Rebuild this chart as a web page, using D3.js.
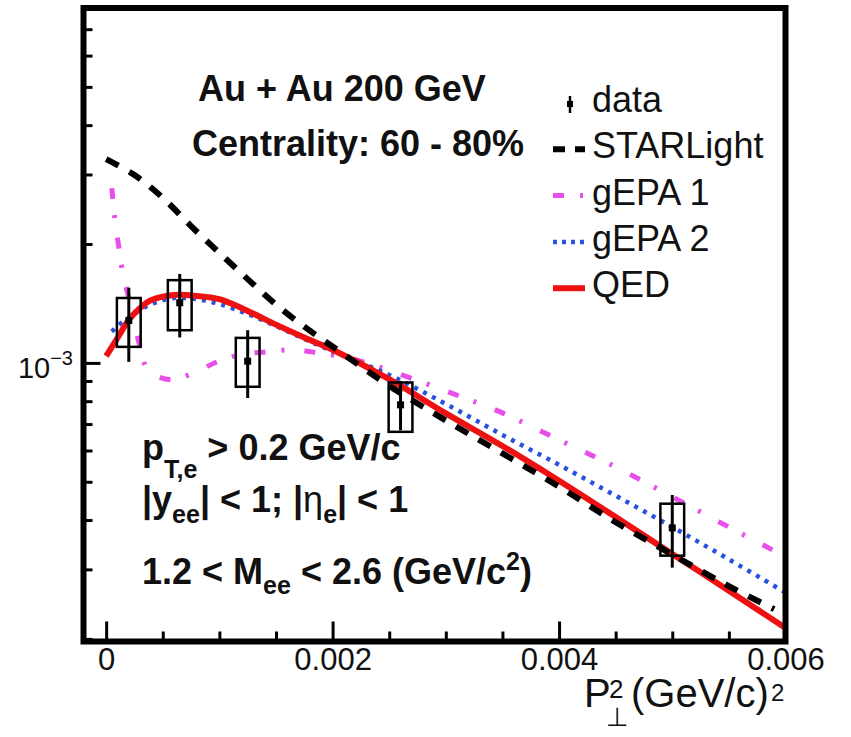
<!DOCTYPE html>
<html>
<head>
<meta charset="utf-8">
<script src="https://cdn.jsdelivr.net/npm/d3@7"></script>
<style>
  html, body { margin: 0; padding: 0; background: #ffffff; }
  svg { display: block; font-family: "Liberation Sans", Arial, Helvetica, sans-serif; }
</style>
</head>
<body>
<script>
// ---- measured points: dN/dP_perp^2 in Au+Au 200 GeV, 60-80% centrality ----
const dataX  = [0.0002, 0.00065, 0.00125, 0.0026, 0.005];
const dataY  = [1.28e-3, 1.42e-3, 1.01e-3, 7.83e-4, 3.82e-4];
const statLo = [1.006e-3, 1.16e-3, 8.15e-4, 6.75e-4, 3.03e-4];
const statHi = [1.55e-3, 1.68e-3, 1.21e-3, 9.0e-4, 4.63e-4];
const sysLo  = [1.098e-3, 1.21e-3, 8.7e-4, 6.69e-4, 3.25e-4];
const sysHi  = [1.46e-3, 1.62e-3, 1.157e-3, 8.92e-4, 4.4e-4];

// ---- model curves ----
const starlightX = [0, 0.00025, 0.0005, 0.00075, 0.001, 0.00125, 0.0015, 0.00175, 0.002,
                    0.0025, 0.003, 0.0035, 0.004, 0.0045, 0.005, 0.0055, 0.0059];
const starlightY = [3.28e-3, 2.99e-3, 2.62e-3, 2.22e-3, 1.90e-3, 1.63e-3, 1.405e-3, 1.235e-3, 1.10e-3,
                    8.75e-4, 7.15e-4, 5.9e-4, 4.86e-4, 3.95e-4, 3.27e-4, 2.72e-4, 2.38e-4];

const gepa1X = [0.00005, 0.00008, 0.00011, 0.00015, 0.00019, 0.0003, 0.00037, 0.00057, 0.00077,
                0.00098, 0.00117, 0.00141, 0.00165, 0.00187, 0.00214, 0.00241, 0.003, 0.0035,
                0.004, 0.0045, 0.005, 0.0055, 0.006];
const gepa1Y = [2.77e-3, 2.27e-3, 1.98e-3, 1.67e-3, 1.50e-3, 1.098e-3, 9.6e-4, 9.06e-4, 9.43e-4,
                1.006e-3, 1.048e-3, 1.066e-3, 1.079e-3, 1.06e-3, 1.03e-3, 9.77e-4, 8.49e-4, 7.47e-4,
                6.38e-4, 5.45e-4, 4.58e-4, 3.84e-4, 3.23e-4];

const gepa2X = [0.00005, 0.0001, 0.0002, 0.0003, 0.0004, 0.0006, 0.0008, 0.001, 0.00125, 0.0015,
                0.00175, 0.002, 0.0025, 0.003, 0.0035, 0.004, 0.0045, 0.005, 0.0055, 0.006];
const gepa2Y = [1.2e-3, 1.24e-3, 1.3e-3, 1.36e-3, 1.41e-3, 1.46e-3, 1.45e-3, 1.41e-3, 1.33e-3, 1.24e-3,
                1.15e-3, 1.07e-3, 9.32e-4, 7.87e-4, 6.57e-4, 5.52e-4, 4.61e-4, 3.84e-4, 3.18e-4, 2.62e-4];

const qedX = [0, 0.0001, 0.0002, 0.0003, 0.0004, 0.0006, 0.0008, 0.001, 0.00125, 0.0015, 0.00175,
              0.002, 0.0025, 0.003, 0.0035, 0.004, 0.0045, 0.005, 0.0055, 0.006];
const qedY = [1.04e-3, 1.156e-3, 1.285e-3, 1.378e-3, 1.443e-3, 1.486e-3, 1.478e-3, 1.45e-3, 1.354e-3,
              1.25e-3, 1.16e-3, 1.08e-3, 9.1e-4, 7.45e-4, 6.16e-4, 5.03e-4, 4.07e-4, 3.28e-4, 2.65e-4, 2.13e-4];

// ---- axes ----
const xMajorTicks = [0, 0.002, 0.004, 0.006];
const xTickLabels = ["0", "0.002", "0.004", "0.006"];
const xMinorTicks = [0.0005, 0.001, 0.0015, 0.0025, 0.003, 0.0035, 0.0045, 0.005, 0.0055];
const yMajorTicks = [1e-3];
const yMinorTicks = [2e-4, 3e-4, 4e-4, 5e-4, 6e-4, 7e-4, 8e-4, 9e-4,
                     2e-3, 3e-3, 4e-3, 5e-3, 6e-3, 7e-3];

const legendLabels = ["data", "STARLight", "gEPA 1", "gEPA 2", "QED"];

(function draw() {
  // ---- layout ----
  const W = 851, H = 737;
  const pL = 83.5, pR = 785.5, pT = 8, pB = 641.5;
  const RED = "#ee1111", PINK = "#e94ee9", BLUE = "#2851e0";

  const svg = d3.select("body").append("svg").attr("width", W).attr("height", H);

  const x = d3.scaleLinear().domain([-0.0002, 0.006]).range([pL, pR]);
  const y = d3.scaleLog().domain([1.97e-4, 7.92e-3]).range([pB, pT]);

  svg.append("defs").append("clipPath").attr("id", "plotArea")
    .append("rect").attr("x", pL).attr("y", pT)
    .attr("width", pR - pL).attr("height", pB - pT);

  const plot = svg.append("g").attr("clip-path", "url(#plotArea)");

  const line = d3.line().x(d => x(d[0])).y(d => y(d[1])).curve(d3.curveCatmullRom.alpha(0.5));
  const zip = (xs, ys) => xs.map((v, i) => [v, ys[i]]);

  const curves = [
    { pts: zip(gepa1X, gepa1Y), color: PINK, width: 5, dash: "11,16,3,20" },
    { pts: zip(gepa2X, gepa2Y), color: BLUE, width: 4.5, dash: "4,6" },
    { pts: zip(qedX, qedY), color: RED, width: 6, dash: null },
    { pts: zip(starlightX, starlightY), color: "#000000", width: 6, dash: "14,12" }
  ];

  plot.selectAll("path.curve").data(curves).join("path")
    .attr("class", "curve")
    .attr("d", c => line(c.pts))
    .attr("fill", "none")
    .attr("stroke", c => c.color)
    .attr("stroke-width", c => c.width)
    .attr("stroke-dasharray", c => c.dash);

  // data points: systematic boxes, statistical bars, markers
  const boxHalf = 0.000105;
  const pts = dataX.map((v, i) => ({ x: v, y: dataY[i], sl: sysLo[i], sh: sysHi[i], el: statLo[i], eh: statHi[i] }));
  const gData = svg.append("g");
  gData.selectAll("rect.sys").data(pts).join("rect")
    .attr("class", "sys")
    .attr("x", d => x(d.x - boxHalf)).attr("width", d => x(d.x + boxHalf) - x(d.x - boxHalf))
    .attr("y", d => y(d.sh)).attr("height", d => y(d.sl) - y(d.sh))
    .attr("fill", "none").attr("stroke", "#000").attr("stroke-width", 2.5);
  gData.selectAll("line.stat").data(pts).join("line")
    .attr("class", "stat")
    .attr("x1", d => x(d.x)).attr("x2", d => x(d.x))
    .attr("y1", d => y(d.eh)).attr("y2", d => y(d.el))
    .attr("stroke", "#000").attr("stroke-width", 3);
  gData.selectAll("rect.marker").data(pts).join("rect")
    .attr("class", "marker")
    .attr("x", d => x(d.x) - 3.5).attr("y", d => y(d.y) - 3.5)
    .attr("width", 7).attr("height", 7).attr("fill", "#000");

  // x axis ticks (drawn inward from the bottom frame)
  const styleAxis = g => {
    g.select(".domain").remove();
    g.selectAll(".tick line").attr("stroke", "#000").attr("stroke-width", 3);
  };
  svg.append("g").attr("transform", `translate(0,${pB})`)
    .call(d3.axisBottom(x).tickValues(xMinorTicks).tickSize(-10).tickFormat(""))
    .call(styleAxis);
  const gxMaj = svg.append("g").attr("transform", `translate(0,${pB})`)
    .call(d3.axisBottom(x).tickValues(xMajorTicks).tickSize(-20).tickFormat((d, i) => xTickLabels[i]))
    .call(styleAxis);
  gxMaj.selectAll(".tick text")
    .attr("y", 670 - pB).attr("dy", 0)
    .attr("fill", "#111").attr("font-size", 31)
    .attr("font-family", "'Liberation Sans', Arial, sans-serif");

  // y axis ticks (log scale)
  svg.append("g").attr("transform", `translate(${pL},0)`)
    .call(d3.axisLeft(y).tickValues(yMinorTicks).tickSize(-9).tickFormat(""))
    .call(styleAxis);
  svg.append("g").attr("transform", `translate(${pL},0)`)
    .call(d3.axisLeft(y).tickValues(yMajorTicks).tickSize(-17).tickFormat(""))
    .call(styleAxis);
  const yLab = svg.append("text")
    .attr("x", 73).attr("y", y(1e-3) + 15)
    .attr("text-anchor", "end").attr("fill", "#111")
    .attr("font-size", 29);
  yLab.append("tspan").text("10");
  yLab.append("tspan").attr("dy", -13).attr("font-size", 20).text("\u22123");

  // axis title
  const title = svg.append("g").attr("fill", "#111");
  title.append("text").attr("x", 584).attr("y", 707).attr("font-size", 40).text("P");
  title.append("text").attr("x", 609).attr("y", 698).attr("font-size", 26).text("2");
  title.append("text").attr("x", 606).attr("y", 726).attr("font-size", 26)
    .attr("font-family", "'DejaVu Sans', sans-serif").text("\u22A5");
  title.append("text").attr("x", 631).attr("y", 707).attr("font-size", 40).text("(GeV/c)");
  title.append("text").attr("x", 771).attr("y", 701).attr("font-size", 24).text("2");

  // plot annotations
  const ann = svg.append("g").attr("font-weight", "bold").attr("fill", "#111").attr("font-size", 36);
  ann.append("text").attr("x", 198).attr("y", 101).text("Au + Au 200 GeV");
  ann.append("text").attr("x", 192).attr("y", 156).text("Centrality: 60 - 80%");

  const t1 = ann.append("text").attr("x", 142).attr("y", 460);
  t1.append("tspan").text("p");
  t1.append("tspan").attr("dy", 18).attr("font-size", 25).text("T,e");
  t1.append("tspan").attr("dy", -18).text(" > 0.2 GeV/c");

  const t2 = ann.append("text").attr("x", 142).attr("y", 512);
  t2.append("tspan").text("|y");
  t2.append("tspan").attr("dy", 11).attr("font-size", 25).text("ee");
  t2.append("tspan").attr("dy", -11).text("| < 1; |");
  t2.append("tspan").attr("font-weight", "normal").text("\u03B7");
  t2.append("tspan").attr("dy", 11).attr("font-size", 25).text("e");
  t2.append("tspan").attr("dy", -11).text("| < 1");

  const t3 = ann.append("text").attr("x", 142).attr("y", 584);
  t3.append("tspan").text("1.2 < M");
  t3.append("tspan").attr("dy", 10).attr("font-size", 25).text("ee");
  t3.append("tspan").attr("dy", -10).text(" < 2.6 (GeV/c");
  t3.append("tspan").attr("dy", -14).attr("font-size", 25).text("2");
  t3.append("tspan").attr("dy", 14).text(")");

  // legend
  const legY0 = 112, legDY = 46.3, legX0 = 553, legX1 = 585, legText = 592;
  const legendStyles = [
    null,
    { color: "#000000", width: 6, dash: "12,10" },
    { color: PINK, width: 5, dash: "11,16,3,20" },
    { color: BLUE, width: 4.5, dash: "4,5" },
    { color: RED, width: 6, dash: null }
  ];
  const leg = svg.append("g");
  legendLabels.forEach((lab, i) => {
    const by = legY0 + i * legDY;
    const st = legendStyles[i];
    if (st) {
      leg.append("line")
        .attr("x1", legX0).attr("x2", legX1).attr("y1", by - 9).attr("y2", by - 9)
        .attr("stroke", st.color).attr("stroke-width", st.width)
        .attr("stroke-dasharray", st.dash);
    } else {
      leg.append("line")
        .attr("x1", 570).attr("x2", 570).attr("y1", by - 16).attr("y2", by + 1)
        .attr("stroke", "#000").attr("stroke-width", 2.5);
      leg.append("rect").attr("x", 567).attr("y", by - 11).attr("width", 6).attr("height", 6).attr("fill", "#000");
    }
    leg.append("text").attr("x", legText).attr("y", by)
      .attr("font-size", 36).attr("fill", "#111").text(lab);
  });

  // frame
  svg.append("rect")
    .attr("x", pL).attr("y", pT).attr("width", pR - pL).attr("height", pB - pT)
    .attr("fill", "none").attr("stroke", "#000").attr("stroke-width", 6);
})();
</script>
</body>
</html>
